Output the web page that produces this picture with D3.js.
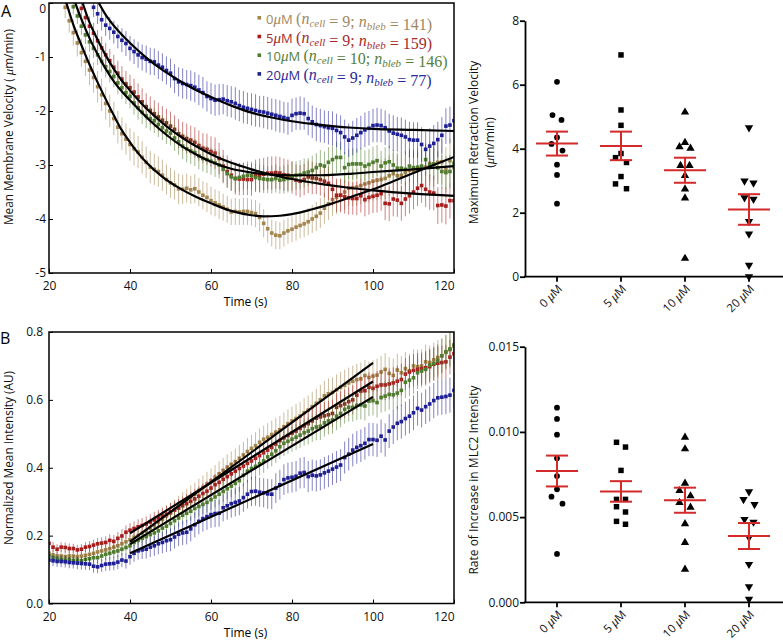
<!DOCTYPE html>
<html>
<head>
<meta charset="utf-8">
<script src="https://cdn.jsdelivr.net/npm/d3@7"></script>
<style>
  body { margin: 0; background: #fff; }
  svg text { font-family: "Open Sans", sans-serif; }
</style>
</head>
<body>
<svg id="fig" width="783" height="643"></svg>
<script>
/* ---- data: legend ---- */
const concLabels = ['0', '5', '10', '20'];
const nCell = [9, 9, 10, 9];
const nBleb = [141, 159, 146, 77];

/* ---- panel A: mean membrane velocity (um/min), one point per second ---- */
const memStart = [24, 28, 26, 31];
const memVel0 = [-0.08,-0.33,-0.55,-0.74,-0.92,-1.08,-1.24,-1.38,-1.55,-1.70,
  -1.86,-2.00,-2.14,-2.30,-2.42,-2.52,-2.62,-2.70,-2.76,-2.86,
  -2.95,-3.04,-3.08,-3.12,-3.19,-3.27,-3.33,-3.37,-3.44,-3.45,
  -3.43,-3.46,-3.44,-3.50,-3.56,-3.60,-3.66,-3.70,-3.74,-3.78,
  -3.82,-3.87,-3.86,-3.87,-3.86,-3.86,-3.88,-3.90,-3.97,-4.08,
  -4.18,-4.26,-4.30,-4.31,-4.26,-4.22,-4.19,-4.15,-4.12,-4.09,
  -4.05,-4.00,-3.95,-3.89,-3.80,-3.72,-3.64,-3.60,-3.56,-3.50,
  -3.43,-3.42,-3.41,-3.38,-3.35,-3.33,-3.30,-3.28,-3.27,-3.25,
  -3.20,-3.16,-3.20,-3.19,-3.14,-3.10,-3.12,-3.08,-3.06,-3.04,
  -2.97,-2.99,-2.95,-2.94,-3.09,-2.92,-3.05];
const memErr0 = [.20,.22,.24,.25,.26,.27,.28,.28,.29,.30,
  .30,.30,.31,.30,.30,.29,.30,.31,.30,.30,
  .29,.30,.29,.28,.29,.28,.28,.27,.28,.27,
  .27,.26,.27,.26,.26,.27,.26,.25,.26,.25,
  .25,.24,.25,.24,.25,.25,.24,.25,.26,.26,
  .26,.25,.26,.25,.25,.24,.24,.25,.24,.25,
  .25,.26,.27,.28,.29,.30,.30,.31,.32,.33,
  .33,.34,.34,.35,.35,.36,.36,.37,.37,.38,
  .38,.39,.39,.40,.40,.40,.41,.40,.41,.41,
  .41,.42,.41,.42,.42,.41,.42];
const memVel5 = [-0.10,-0.27,-0.43,-0.56,-0.70,-0.83,-0.96,-1.07,-1.19,-1.30,
  -1.41,-1.50,-1.57,-1.65,-1.74,-1.83,-1.92,-1.99,-2.05,-2.11,
  -2.17,-2.22,-2.28,-2.34,-2.42,-2.47,-2.51,-2.54,-2.58,-2.64,
  -2.69,-2.71,-2.75,-2.78,-2.88,-3.02,-3.12,-3.19,-3.25,-3.26,
  -3.26,-3.27,-3.27,-3.20,-3.19,-3.17,-3.15,-3.15,-3.14,-3.15,
  -3.18,-3.19,-3.23,-3.28,-3.30,-3.27,-3.22,-3.24,-3.25,-3.27,
  -3.30,-3.34,-3.45,-3.56,-3.56,-3.59,-3.61,-3.62,-3.62,-3.57,
  -3.64,-3.60,-3.58,-3.56,-3.53,-3.71,-3.72,-3.63,-3.65,-3.71,
  -3.63,-3.57,-3.50,-3.43,-3.38,-3.45,-3.50,-3.52,-3.75,-3.74,
  -3.76,-3.66,-3.66];
const memErr5 = [.15,.17,.18,.19,.20,.21,.22,.22,.23,.23,
  .24,.24,.24,.25,.25,.25,.25,.26,.25,.26,
  .26,.26,.27,.26,.27,.27,.28,.27,.28,.28,
  .28,.29,.28,.29,.29,.30,.30,.29,.30,.30,
  .30,.29,.30,.30,.31,.30,.30,.31,.30,.30,
  .30,.29,.30,.29,.30,.29,.30,.30,.29,.30,
  .30,.31,.30,.31,.30,.31,.31,.30,.31,.31,
  .31,.32,.31,.32,.32,.31,.32,.32,.31,.32,
  .32,.33,.32,.33,.32,.33,.33,.32,.34,.33,
  .34,.33,.34];
const memVel10 = [-0.07,-0.24,-0.43,-0.59,-0.72,-0.84,-0.96,-1.08,-1.18,-1.27,
  -1.36,-1.48,-1.57,-1.66,-1.73,-1.85,-1.94,-2.02,-2.09,-2.14,
  -2.18,-2.25,-2.31,-2.37,-2.41,-2.50,-2.57,-2.65,-2.70,-2.74,
  -2.77,-2.83,-2.88,-2.90,-2.93,-2.96,-3.00,-3.08,-3.16,-3.22,
  -3.25,-3.23,-3.21,-3.19,-3.20,-3.23,-3.25,-3.26,-3.27,-3.27,
  -3.25,-3.28,-3.27,-3.25,-3.21,-3.19,-3.18,-3.15,-3.13,-3.10,
  -3.05,-3.00,-3.02,-2.95,-2.90,-2.86,-2.86,-3.05,-2.99,-2.98,
  -2.98,-2.98,-3.02,-2.99,-2.95,-2.92,-3.02,-2.96,-2.94,-3.00,
  -3.06,-3.06,-3.08,-3.02,-3.05,-3.04,-3.02,-2.90,-3.00,-2.98,
  -3.05,-3.12,-3.14,-3.12,-2.97];
const memErr10 = [.14,.15,.16,.17,.18,.18,.19,.19,.20,.20,
  .20,.21,.21,.21,.22,.22,.22,.22,.23,.22,
  .23,.23,.23,.24,.23,.24,.24,.24,.25,.24,
  .25,.25,.24,.25,.25,.26,.25,.26,.26,.25,
  .26,.26,.25,.26,.26,.25,.26,.26,.25,.26,
  .26,.25,.26,.26,.27,.26,.27,.27,.26,.27,
  .27,.28,.27,.28,.28,.29,.28,.29,.28,.29,
  .28,.29,.29,.28,.29,.29,.28,.29,.29,.28,
  .29,.29,.30,.29,.30,.29,.30,.30,.29,.30,
  .30,.31,.30,.31,.30];
const memVel20 = [-0.08,-0.20,-0.31,-0.41,-0.47,-0.54,-0.62,-0.69,-0.75,-0.84,
  -0.90,-0.96,-1.01,-1.04,-1.08,-1.09,-1.15,-1.19,-1.25,-1.30,
  -1.40,-1.46,-1.49,-1.51,-1.53,-1.56,-1.61,-1.66,-1.73,-1.77,
  -1.80,-1.79,-1.78,-1.81,-1.83,-1.86,-1.90,-1.93,-1.95,-1.97,
  -1.99,-2.01,-2.02,-2.04,-2.06,-2.08,-2.10,-2.12,-2.14,-2.08,
  -2.05,-2.04,-2.05,-2.14,-2.20,-2.25,-2.27,-2.29,-2.31,-2.32,
  -2.36,-2.40,-2.48,-2.54,-2.50,-2.45,-2.40,-2.35,-2.32,-2.27,
  -2.26,-2.27,-2.31,-2.37,-2.41,-2.43,-2.45,-2.48,-2.53,-2.54,
  -2.54,-2.62,-2.71,-2.65,-2.60,-2.53,-2.45,-2.28,-2.26,-2.18];
const memErr20 = [.18,.19,.20,.20,.21,.21,.22,.22,.23,.23,
  .23,.24,.24,.25,.25,.25,.26,.26,.26,.27,
  .27,.27,.28,.27,.28,.28,.28,.29,.28,.29,
  .29,.29,.28,.29,.29,.30,.29,.30,.29,.30,
  .30,.29,.30,.30,.29,.30,.30,.29,.30,.31,
  .30,.31,.30,.31,.30,.31,.31,.30,.31,.31,
  .31,.32,.32,.31,.32,.32,.31,.32,.32,.31,
  .32,.31,.32,.32,.33,.32,.33,.32,.33,.33,
  .33,.32,.33,.33,.34,.33,.34,.33,.34,.34];
/* fitted curves [time, velocity] */
const memFit0 = [[24.3,0],[26,-0.40],[28,-0.78],[30,-1.14],[32,-1.47],[34,-1.78],[36,-2.08],[38,-2.36],
  [40,-2.58],[42,-2.78],[44,-2.95],[48,-3.22],[52,-3.42],[56,-3.58],[60,-3.71],[65,-3.85],[70,-3.93],
  [73,-3.95],[77,-3.94],[80,-3.91],[85,-3.82],[90,-3.71],[95,-3.58],[100,-3.45],[105,-3.30],[110,-3.15],[115,-3.00],[120,-2.85]];
const memFit5 = [[28.3,0],[30,-0.36],[32,-0.68],[34,-0.97],[36,-1.22],[38,-1.44],[40,-1.62],[42,-1.79],
  [44,-1.95],[46,-2.09],[48,-2.22],[50,-2.34],[53,-2.50],[56,-2.64],[60,-2.80],[65,-2.96],[70,-3.08],
  [75,-3.18],[80,-3.26],[87,-3.35],[95,-3.43],[100,-3.47],[110,-3.53],[120,-3.57]];
const memFit10 = [[26.5,0],[28,-0.30],[30,-0.65],[32,-0.95],[34,-1.22],[36,-1.45],[38,-1.64],[40,-1.80],
  [42,-1.96],[44,-2.11],[46,-2.25],[48,-2.38],[50,-2.50],[53,-2.66],[56,-2.79],[60,-2.94],[65,-3.07],
  [70,-3.14],[75,-3.18],[80,-3.19],[87,-3.19],[95,-3.16],[100,-3.13],[110,-3.08],[120,-3.02]];
const memFit20 = [[32.3,0],[34,-0.22],[36,-0.42],[38,-0.59],[40,-0.74],[44,-1.01],[48,-1.24],[52,-1.43],
  [56,-1.60],[60,-1.74],[65,-1.90],[70,-2.03],[75,-2.12],[80,-2.19],[85,-2.24],[90,-2.28],[95,-2.31],
  [100,-2.33],[110,-2.35],[120,-2.37]];

/* ---- panel B: normalized mean intensity (AU), 20..120 s ---- */
const intStart = [20, 20, 20, 20];
const intens0 = [.148,.143,.140,.140,.138,.140,.140,.138,.140,.142,
  .145,.148,.152,.155,.158,.162,.166,.170,.176,.182,
  .188,.195,.200,.207,.213,.222,.230,.240,.248,.258,
  .266,.275,.285,.295,.305,.314,.322,.333,.342,.352,
  .362,.372,.382,.392,.402,.410,.418,.428,.438,.448,
  .457,.465,.475,.484,.490,.498,.505,.512,.521,.530,
  .538,.545,.552,.562,.570,.580,.590,.600,.612,.618,
  .622,.630,.637,.643,.650,.655,.660,.662,.672,.666,
  .670,.673,.682,.690,.678,.672,.688,.680,.692,.686,
  .700,.698,.700,.712,.710,.718,.725,.730,.740,.748,
  .758];
const intErr0 = [.020,.019,.018,.018,.018,.019,.018,.018,.019,.019,
  .020,.020,.021,.021,.022,.022,.023,.023,.024,.024,
  .025,.026,.026,.027,.028,.028,.029,.030,.030,.031,
  .031,.032,.032,.033,.033,.034,.034,.035,.035,.036,
  .036,.036,.037,.037,.038,.038,.038,.039,.039,.040,
  .040,.040,.041,.040,.041,.041,.042,.041,.042,.042,
  .042,.043,.042,.043,.043,.044,.043,.044,.044,.045,
  .044,.045,.045,.046,.045,.046,.046,.047,.046,.047,
  .047,.048,.047,.048,.048,.049,.048,.049,.049,.050,
  .049,.050,.050,.051,.050,.051,.051,.052,.051,.052,
  .052];
const intens5 = [.177,.166,.160,.166,.165,.162,.162,.158,.160,.166,
  .168,.172,.176,.178,.180,.186,.183,.192,.199,.210,
  .216,.221,.226,.230,.234,.240,.246,.252,.258,.263,
  .270,.276,.281,.288,.294,.301,.308,.316,.324,.331,
  .340,.350,.357,.366,.374,.382,.390,.398,.405,.413,
  .420,.428,.436,.444,.452,.460,.470,.480,.488,.495,
  .502,.508,.516,.523,.530,.538,.546,.550,.553,.556,
  .560,.578,.583,.588,.595,.600,.614,.626,.627,.637,
  .634,.640,.644,.644,.647,.650,.655,.660,.676,.682,
  .687,.690,.692,.695,.698,.705,.708,.710,.712,.726,
  .736];
const intErr5 = [.016,.015,.015,.014,.015,.015,.014,.015,.015,.015,
  .016,.016,.017,.017,.018,.018,.019,.019,.020,.020,
  .021,.021,.022,.022,.023,.023,.024,.024,.025,.025,
  .026,.026,.027,.027,.028,.028,.029,.029,.030,.030,
  .030,.031,.031,.032,.032,.032,.033,.033,.034,.034,
  .034,.035,.035,.035,.036,.036,.036,.037,.037,.037,
  .038,.038,.038,.039,.039,.039,.040,.040,.040,.041,
  .041,.041,.042,.042,.042,.043,.043,.043,.044,.044,
  .044,.045,.045,.045,.046,.046,.046,.047,.047,.047,
  .048,.048,.048,.049,.049,.049,.050,.050,.050,.051,
  .051];
const intens10 = [.140,.135,.132,.130,.128,.130,.127,.128,.126,.130,
  .132,.135,.135,.140,.145,.148,.152,.155,.160,.165,
  .170,.180,.186,.192,.197,.203,.208,.214,.222,.228,
  .236,.244,.252,.260,.266,.272,.280,.286,.292,.298,
  .306,.314,.322,.330,.338,.346,.354,.362,.378,.390,
  .398,.404,.412,.420,.432,.440,.450,.462,.472,.478,
  .484,.490,.496,.503,.508,.515,.520,.522,.532,.538,
  .541,.552,.560,.572,.578,.578,.584,.585,.582,.596,
  .598,.592,.607,.611,.616,.615,.620,.628,.652,.658,
  .665,.680,.685,.690,.702,.707,.715,.730,.742,.750,
  .762];
const intErr10 = [.015,.015,.014,.014,.014,.014,.015,.014,.014,.015,
  .015,.016,.016,.017,.017,.018,.018,.019,.019,.020,
  .020,.021,.021,.022,.022,.023,.023,.024,.024,.025,
  .025,.026,.026,.027,.027,.028,.028,.029,.029,.030,
  .030,.031,.031,.031,.032,.032,.033,.033,.033,.034,
  .034,.034,.035,.035,.035,.036,.036,.036,.037,.037,
  .037,.038,.038,.038,.039,.039,.039,.040,.040,.040,
  .041,.041,.041,.042,.042,.042,.043,.043,.043,.044,
  .044,.044,.045,.045,.045,.046,.046,.046,.047,.047,
  .047,.048,.048,.048,.049,.049,.049,.050,.050,.050,
  .051];
const intens20 = [.128,.126,.124,.124,.123,.121,.120,.119,.118,.117,
  .116,.110,.108,.112,.116,.117,.118,.122,.128,.125,
  .138,.148,.155,.158,.160,.166,.170,.176,.180,.185,
  .188,.196,.204,.208,.210,.220,.232,.242,.250,.256,
  .262,.265,.266,.282,.288,.294,.298,.302,.312,.322,
  .330,.331,.328,.326,.323,.322,.340,.350,.365,.370,
  .372,.375,.384,.386,.374,.378,.376,.379,.385,.390,
  .396,.402,.408,.430,.440,.452,.460,.465,.472,.483,
  .483,.481,.493,.482,.508,.520,.531,.536,.545,.552,
  .562,.575,.570,.580,.588,.598,.606,.608,.610,.614,
  .628];
const intErr20 = [.016,.016,.016,.017,.017,.017,.017,.018,.018,.018,
  .018,.019,.019,.019,.020,.020,.020,.021,.021,.022,
  .024,.025,.026,.027,.028,.029,.030,.031,.032,.033,
  .034,.034,.035,.036,.036,.037,.037,.038,.038,.039,
  .039,.040,.040,.040,.041,.041,.041,.042,.042,.042,
  .043,.043,.043,.043,.044,.044,.044,.044,.045,.045,
  .045,.045,.045,.046,.046,.046,.046,.046,.047,.047,
  .047,.047,.047,.047,.048,.048,.048,.048,.048,.049,
  .049,.049,.049,.049,.050,.050,.050,.050,.050,.051,
  .051,.051,.051,.051,.052,.052,.052,.052,.052,.052,
  .053];
/* linear fits 40..100 s [time, intensity] */
const intFit0 = [[40, 0.182], [100, 0.709]];
const intFit5 = [[40, 0.207], [100, 0.654]];
const intFit10 = [[40, 0.175], [100, 0.609]];
const intFit20 = [[40, 0.148], [100, 0.470]];

/* ---- right panels: per-cell values ---- */
const categories = ['0', '5', '10', '20'];
const maxVel0 = [6.09, 5.05, 4.90, 4.35, 4.15, 3.94, 3.50, 3.18, 2.28];
const maxVel5 = [6.93, 5.21, 4.73, 3.85, 3.72, 3.57, 3.13, 2.90, 2.75];
const maxVel10 = [5.14, 4.19, 4.06, 4.01, 3.47, 3.47, 3.16, 2.74, 2.46, 0.57];
const maxVel20 = [4.66, 2.99, 2.93, 2.47, 2.42, 1.73, 1.34, 0.36, 0.00];
const rate0 = [0.01142, 0.01076, 0.00984, 0.00845, 0.00741, 0.00663, 0.00620, 0.00579, 0.00284];
const rate5 = [0.00939, 0.00911, 0.00774, 0.00604, 0.00604, 0.00561, 0.00530, 0.00475, 0.00458];
const rate10 = [0.00968, 0.00900, 0.00698, 0.00655, 0.00624, 0.00585, 0.00557, 0.00460, 0.00350, 0.00194];
const rate20 = [0.00649, 0.00604, 0.00575, 0.00487, 0.00471, 0.00381, 0.00223, 0.00092, 0.00018];

/* ---- drawing ---- */
const svg = d3.select('#fig');
const SERIF = '"Liberation Serif", "DejaVu Serif", serif';
const dotColors = ['#a3854f', '#a61d1d', '#4f7c2f', '#1f1f94'];
const textColors = ['#a08860', '#a62a2a', '#55803a', '#2a2a96'];

function timePanel(o) {
  const g = svg.append('g');
  const x = d3.scaleLinear().domain([20, 120]).range([o.left, o.right]);
  const y = d3.scaleLinear().domain(o.yDomain).range([o.bottom, o.top]);

  svg.append('clipPath').attr('id', 'clip' + o.id).append('rect')
    .attr('x', o.left).attr('y', o.top)
    .attr('width', o.right - o.left).attr('height', o.bottom - o.top);

  // axes with inward ticks
  const xa = g.append('g').attr('transform', `translate(0,${o.bottom})`)
    .call(d3.axisBottom(x).tickValues(d3.range(20, 121, 20)).tickSize(-4).tickPadding(o.xPad));
  xa.selectAll('text').filter(d => d === 120).attr('text-anchor', 'end');
  const ya = g.append('g').attr('transform', `translate(${o.left},0)`)
    .call(d3.axisLeft(y).tickValues(o.yTicks).tickSize(-4).tickPadding(o.yPad).tickFormat(o.yFormat));
  // keep the top label inside the page
  ya.selectAll('text').filter(d => y(d) < 8).attr('dy', '0.78em');
  [xa, ya].forEach(a => {
    a.attr('font-size', 12).attr('font-family', '"Open Sans", sans-serif');
    a.select('.domain').remove();
    a.selectAll('line').attr('stroke', '#000');
    a.selectAll('text').attr('fill', '#111');
  });

  // series: error bars + dots
  const plot = g.append('g').attr('clip-path', `url(#clip${o.id})`);
  o.series.forEach((s, i) => {
    const pts = s.values.map((v, k) => ({ t: s.start + k, v, e: s.err[k] }));
    const sg = plot.append('g');
    sg.selectAll('line').data(pts).join('line')
      .attr('x1', d => x(d.t)).attr('x2', d => x(d.t))
      .attr('y1', d => y(d.v - d.e)).attr('y2', d => y(d.v + d.e))
      .attr('stroke', dotColors[i]).attr('stroke-opacity', 0.55).attr('stroke-width', 1);
    sg.selectAll('rect').data(pts).join('rect')
      .attr('x', d => x(d.t) - 1.8).attr('y', d => y(d.v) - 1.8)
      .attr('width', 3.6).attr('height', 3.6).attr('fill', dotColors[i]);
  });

  // fitted curves
  const line = d3.line().x(d => x(d[0])).y(d => y(d[1])).curve(d3.curveMonotoneX);
  o.fits.forEach(f => {
    plot.append('path').attr('d', line(f)).attr('fill', 'none')
      .attr('stroke', '#000').attr('stroke-width', 2.2);
  });

  // frame
  g.append('rect').attr('x', o.left).attr('y', o.top)
    .attr('width', o.right - o.left).attr('height', o.bottom - o.top)
    .attr('fill', 'none').attr('stroke', '#000').attr('stroke-width', 1.5);

  g.append('text').attr('x', (o.left + o.right) / 2 - 6).attr('y', o.xTitleY)
    .attr('text-anchor', 'middle').attr('font-size', 12).text('Time (s)');
  return { g, x, y };
}

/* panel A */
const pA = timePanel({
  id: 'A', left: 49, right: 454, top: 3, bottom: 273,
  yDomain: [-5, 0], yTicks: [-5, -4, -3, -2, -1, 0], yFormat: d => String(d),
  xPad: 8.5, yPad: 3, xTitleY: 306,
  series: [
    { start: memStart[0], values: memVel0, err: memErr0 },
    { start: memStart[1], values: memVel5, err: memErr5 },
    { start: memStart[2], values: memVel10, err: memErr10 },
    { start: memStart[3], values: memVel20, err: memErr20 }
  ],
  fits: [memFit0, memFit5, memFit10, memFit20]
});

/* panel B */
const pB = timePanel({
  id: 'B', left: 49, right: 454, top: 332, bottom: 603.5,
  yDomain: [0, 0.8], yTicks: [0, 0.2, 0.4, 0.6, 0.8], yFormat: d3.format('.1f'),
  xPad: 9, yPad: 6, xTitleY: 637,
  series: [
    { start: intStart[0], values: intens0, err: intErr0 },
    { start: intStart[1], values: intens5, err: intErr5 },
    { start: intStart[2], values: intens10, err: intErr10 },
    { start: intStart[3], values: intens20, err: intErr20 }
  ],
  fits: [intFit0, intFit5, intFit10, intFit20]
});

// rotated y titles for the left panels
function yTitle(x, y, parts, size) {
  const t = svg.append('text').attr('transform', `translate(${x},${y}) rotate(-90)`)
    .attr('text-anchor', 'middle').attr('font-size', size || 12).attr('fill', '#111');
  parts.forEach(p => {
    const s = t.append('tspan').text(p.t);
    if (p.it) s.attr('font-style', 'italic').attr('font-family', SERIF).attr('font-size', (size || 12) + 1);
  });
  return t;
}
yTitle(13, 127, [{ t: 'Mean Membrane Velocity ( ' }, { t: 'μ', it: true }, { t: 'm/min)' }], 11.8);
yTitle(13, 458, [{ t: 'Normalized Mean Intensity (AU)' }], 11.8);

// legend in panel A
const leg = svg.append('g');
concLabels.forEach((c, i) => {
  const cy = 19 + i * 18.7;
  leg.append('rect').attr('x', 257.5).attr('y', cy - 3).attr('width', 3.6).attr('height', 3.6)
    .attr('fill', dotColors[i]);
  const t = leg.append('text').attr('x', 266).attr('y', cy + 4.8).attr('font-size', 13)
    .attr('fill', textColors[i]);
  t.append('tspan').text(c);
  t.append('tspan').attr('font-family', SERIF).attr('font-style', 'italic').attr('font-size', 15).text('μ');
  t.append('tspan').text('M ');
  const serif = txt => t.append('tspan').attr('font-family', SERIF).attr('font-size', 16).text(txt);
  const nSub = sub => {
    t.append('tspan').attr('font-family', SERIF).attr('font-style', 'italic').attr('font-size', 16).text('n');
    t.append('tspan').attr('font-family', SERIF).attr('font-style', 'italic').attr('font-size', 11)
      .attr('dy', 3).text(sub);
    t.append('tspan').attr('dy', -3).attr('font-size', 16).text('');
  };
  serif('(');
  nSub('cell');
  serif(` = ${nCell[i]}; `);
  nSub('bleb');
  serif(` = ${nBleb[i]})`);
});

// panel letters
svg.append('text').attr('x', 1).attr('y', 17).attr('font-size', 16).text('A');
svg.append('text').attr('x', 0).attr('y', 344).attr('font-size', 16).text('B');

/* ---- scatter panels ---- */
function dodge(vals, y) {
  const order = vals.map((v, i) => i).sort((a, b) => vals[b] - vals[a]);
  const off = vals.map(() => 0);
  let group = [order[0]];
  const flush = () => {
    const n = group.length;
    group.forEach((idx, k) => {
      if (n === 1) off[idx] = 0;
      else if (n % 2 === 0) off[idx] = k % 2 === 0 ? -4.5 : 4.5;
      else off[idx] = k === 0 ? 0 : (k % 2 === 1 ? -5.5 : 5.5);
    });
  };
  for (let k = 1; k < order.length; k++) {
    if (Math.abs(y(vals[order[k - 1]]) - y(vals[order[k]])) < 8) group.push(order[k]);
    else { flush(); group = [order[k]]; }
  }
  flush();
  return off;
}

const symbols = [
  d3.symbol().type(d3.symbolCircle).size(26)(),
  d3.symbol().type(d3.symbolSquare).size(30)(),
  d3.symbol().type(d3.symbolTriangle).size(30)(),
  d3.symbol().type(d3.symbolTriangle).size(30)()
];

function scatterPanel(o) {
  const g = svg.append('g');
  const x = d3.scalePoint().domain(categories).range([525, 781]).padding(0.5);
  const y = d3.scaleLinear().domain(o.yDomain).range([o.bottom, o.top]);

  const ya = g.append('g').attr('transform', 'translate(525,0)')
    .call(d3.axisLeft(y).tickValues(o.yTicks).tickSize(5).tickSizeOuter(0).tickPadding(1).tickFormat(o.yFormat));
  ya.attr('font-size', 12).attr('font-family', '"Open Sans", sans-serif');
  ya.selectAll('line, path').attr('stroke', '#000').attr('stroke-width', 1.8);
  ya.selectAll('text').attr('fill', '#111');

  g.append('line').attr('x1', 524).attr('x2', 783).attr('y1', o.bottom).attr('y2', o.bottom)
    .attr('stroke', '#000').attr('stroke-width', 1.8);
  g.selectAll('line.xt').data(categories).join('line').attr('class', 'xt')
    .attr('x1', d => x(d)).attr('x2', d => x(d)).attr('y1', o.bottom).attr('y2', o.bottom + 5)
    .attr('stroke', '#000').attr('stroke-width', 1.8);
  categories.forEach(c => {
    const t = g.append('text').attr('text-anchor', 'end').attr('font-size', 11.5).attr('fill', '#111')
      .attr('transform', `translate(${x(c) + 3},${o.bottom + 10}) rotate(-45)`).attr('dy', '0.35em');
    t.append('tspan').text(c + ' ');
    t.append('tspan').attr('font-family', SERIF).attr('font-style', 'italic').attr('font-size', 13).text('μ');
    t.append('tspan').text('M');
  });

  o.groups.forEach((vals, i) => {
    const cx = x(categories[i]);
    const off = dodge(vals, y);
    g.selectAll(null).data(vals).join('path')
      .attr('d', symbols[i])
      .attr('transform', (d, k) => `translate(${cx + off[k]},${y(d)})` + (i === 3 ? ' rotate(180)' : ''))
      .attr('fill', '#000');
    const m = d3.mean(vals);
    const sem = d3.deviation(vals) / Math.sqrt(vals.length);
    const red = '#d42a2a';
    const seg = (x1, x2, y1, y2) => g.append('line').attr('x1', x1).attr('x2', x2).attr('y1', y1).attr('y2', y2)
      .attr('stroke', red).attr('stroke-width', 2);
    seg(cx - 21, cx + 21, y(m), y(m));
    seg(cx - 11, cx + 11, y(m + sem), y(m + sem));
    seg(cx - 11, cx + 11, y(m - sem), y(m - sem));
    seg(cx, cx, y(m + sem), y(m - sem));
  });

  o.title.forEach((line, k) => {
    const t = g.append('text').attr('transform', `translate(${o.titleX[k]},${o.titleY}) rotate(-90)`)
      .attr('text-anchor', 'middle').attr('font-size', 12).attr('fill', '#111');
    line.forEach(p => {
      const s = t.append('tspan').text(p.t);
      if (p.it) s.attr('font-family', SERIF).attr('font-style', 'italic').attr('font-size', 13);
    });
  });
}

scatterPanel({
  top: 20.7, bottom: 276.7, yDomain: [0, 8], yTicks: [0, 2, 4, 6, 8], yFormat: d => String(d),
  groups: [maxVel0, maxVel5, maxVel10, maxVel20],
  title: [[{ t: 'Maximum Retraction Velocity' }], [{ t: '(' }, { t: 'μ', it: true }, { t: 'm/min)' }]],
  titleX: [478, 494], titleY: 142.5
});
scatterPanel({
  top: 346.7, bottom: 602.3, yDomain: [0, 0.015], yTicks: [0, 0.005, 0.01, 0.015], yFormat: d3.format('.3f'),
  groups: [rate0, rate5, rate10, rate20],
  title: [[{ t: 'Rate of Increase in MLC2 Intensity' }]],
  titleX: [478], titleY: 480
});
</script>
</body>
</html>
